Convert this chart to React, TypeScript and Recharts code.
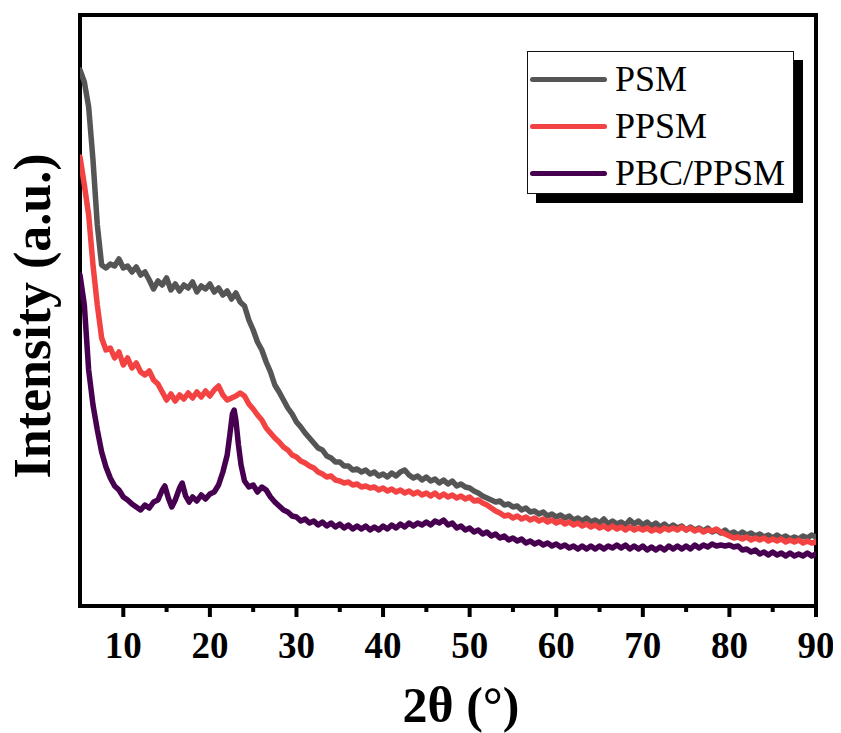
import React from 'react';
import { LineChart, Line, XAxis, YAxis, ReferenceArea, Customized } from 'recharts';

// 2θ grid (degrees) used by PSM and PPSM scans
const gridAngles: number[] = Array.from({ length: 171 }, (_, i) => 5 + i * 0.5);

// PSM intensity (a.u.), 5.0 → 90.0 step 0.5
const psmIntensity: number[] = [
  536, 524, 499, 446, 381, 341, 338, 342, 340, 347,
  338, 340, 334, 339, 331, 334, 326, 317, 325, 321,
  328, 316, 322, 315, 321, 318, 324, 314, 320, 317,
  322, 314, 318, 311, 315, 307, 313, 304, 300, 286,
  276, 264, 256, 244, 234, 221, 214, 206, 198, 192,
  184, 179, 173, 168, 163, 158, 156, 150, 148, 144,
  144, 140, 140, 136, 137, 134, 136, 132, 134, 130,
  132, 129, 133, 130, 134, 136, 131, 128, 130, 126,
  129, 125, 127, 123, 126, 122, 125, 120, 122, 119,
  118, 115, 113, 110, 108, 106, 104, 105, 101, 102,
  99, 100, 96, 98, 94, 95, 92, 94, 90, 92,
  89, 91, 88, 90, 86, 88, 85, 88, 84, 86,
  83, 87, 82, 85, 82, 84, 81, 86, 82, 85,
  81, 84, 80, 83, 79, 82, 78, 81, 78, 80,
  76, 79, 76, 78, 75, 78, 74, 76, 73, 76,
  72, 74, 71, 74, 71, 73, 70, 72, 69, 71,
  68, 71, 68, 70, 67, 69, 67, 70, 68, 71,
  69,
];

// PPSM intensity (a.u.), 5.0 → 90.0 step 0.5
const ppsmIntensity: number[] = [
  449, 421, 391, 341, 301, 268, 256, 258, 248, 254,
  241, 248, 238, 243, 234, 231, 235, 226, 222, 214,
  206, 212, 205, 211, 207, 213, 208, 214, 209, 215,
  210, 216, 220, 211, 206, 208, 210, 213, 210, 202,
  197, 191, 186, 178, 173, 168, 164, 159, 156, 151,
  149, 145, 143, 140, 138, 134, 132, 129, 130, 126,
  125, 123, 124, 121, 122, 119, 120, 118, 119, 116,
  118, 115, 117, 114, 116, 113, 115, 112, 114, 111,
  113, 110, 113, 109, 112, 109, 111, 108, 110, 107,
  109, 105, 106, 103, 101, 98, 95, 93, 90, 91,
  88, 90, 87, 89, 86, 88, 85, 87, 84, 86,
  83, 85, 82, 84, 81, 83, 80, 82, 79, 81,
  78, 80, 77, 80, 77, 79, 76, 79, 76, 78,
  76, 78, 75, 77, 75, 78, 76, 78, 76, 79,
  76, 78, 75, 77, 74, 76, 75, 77, 74, 72,
  70, 68, 69, 67, 69, 66, 68, 66, 68, 65,
  67, 65, 67, 64, 66, 64, 66, 63, 65, 63,
  64,
];

// PBC/PPSM scan angles: finer points around the crystalline peaks, then 0.5 steps
const pbcAngles: number[] = [
  5, 5.5, 6, 6.5, 7, 7.5, 8, 8.5, 9, 9.5,
  10, 10.5, 11, 11.5, 12, 12.5, 13, 13.5, 14, 14.5,
  14.8, 15.2, 15.6,
  16, 16.5, 16.8, 17.2, 17.6,
  18, 18.5, 19, 19.5, 20, 20.5, 21, 21.5, 22,
  22.3, 22.6, 22.8, 23, 23.3, 23.6, 24,
  ...Array.from({ length: 132 }, (_, i) => 24.5 + i * 0.5),
];

// PBC/PPSM intensity (a.u.)
const pbcIntensity: number[] = [
  331, 301, 236, 201, 176, 154, 139, 128, 120, 116,
  109, 106, 102, 99, 96, 101, 98, 104, 106, 116,
  120, 108, 99,
  106, 118, 123, 110, 104,
  109, 105, 111, 107, 112, 114, 121, 134, 151,
  171, 192, 196, 186, 161, 141, 125,
  119, 121, 114, 119, 116, 109, 104, 100, 96, 94, 90,
  89, 85, 87, 83, 85, 81, 84, 80, 83, 79,
  82, 78, 81, 77, 80, 77, 80, 76, 79, 76,
  80, 77, 81, 78, 82, 79, 83, 80, 83, 81,
  84, 81, 85, 83, 86, 81, 83, 78, 80, 76,
  78, 74, 76, 72, 74, 70, 72, 68, 70, 66,
  68, 65, 67, 63, 65, 62, 64, 61, 63, 60,
  62, 59, 61, 58, 60, 57, 60, 57, 60, 57,
  60, 57, 60, 58, 61, 58, 61, 57, 60, 57,
  60, 56, 59, 56, 59, 56, 60, 57, 60, 57,
  60, 57, 61, 58, 61, 59, 62, 60, 61, 60,
  61, 59, 60, 56, 57, 54, 56, 52, 54, 51,
  54, 51, 53, 50, 53, 50, 52, 50, 53, 50,
  52,
];

const seriesNames = ['PSM', 'PPSM', 'PBC/PPSM'];
const seriesColors = ['#555555', '#f24242', '#46004f'];

const xTicks: number[] = [10, 15, 20, 25, 30, 35, 40, 45, 50, 55, 60, 65, 70, 75, 80, 85, 90];
const majorTicks: number[] = [10, 20, 30, 40, 50, 60, 70, 80, 90];

const xDomain: [number, number] = [5, 90];
const yDomain: [number, number] = [0, 591];

const zip = (xs: number[], ys: number[]) => xs.map((x, i) => ({ twoTheta: x, intensity: ys[i] }));

const psmData = zip(gridAngles, psmIntensity);
const ppsmData = zip(gridAngles, ppsmIntensity);
const pbcData = zip(pbcAngles, pbcIntensity);
const seriesData = [psmData, ppsmData, pbcData];

const FONT = "'Liberation Serif', 'Times New Roman', Times, serif";

const XTick = (props: any) => {
  const { x, y, payload } = props;
  const v = payload.value;
  const major = majorTicks.includes(v);
  return (
    <g>
      <line x1={x} x2={x} y1={y} y2={y + (major ? 11 : 6)} stroke="#000" strokeWidth={4} />
      {major && (
        <text x={x} y={y + 52} textAnchor="middle" fontFamily={FONT} fontWeight="bold" fontSize={37} fill="#000">
          {v}
        </text>
      )}
    </g>
  );
};

const AxisTitles = () => (
  <g>
    <text x={461} y={722} textAnchor="middle" fontFamily={FONT} fontWeight="bold" fontSize={50} fill="#000">
      2θ (°)
    </text>
    <text
      x={50}
      y={316}
      textAnchor="middle"
      transform="rotate(-90, 50, 316)"
      fontFamily={FONT}
      fontWeight="bold"
      fontSize={52}
      fill="#000"
    >
      Intensity (a.u.)
    </text>
  </g>
);

const LegendBox = () => (
  <div
    style={{
      position: 'absolute',
      left: 527,
      top: 51,
      width: 267,
      height: 143,
      boxSizing: 'border-box',
      border: '1.5px solid #111',
      background: '#fff',
      boxShadow: '9px 9px 0 #000',
    }}
  >
    {seriesNames.map((name, i) => (
      <div
        key={name}
        style={{
          position: 'absolute',
          left: 2,
          top: 27 + i * 47 - 20,
          height: 40,
          display: 'flex',
          alignItems: 'center',
          whiteSpace: 'nowrap',
        }}
      >
        <div style={{ width: 77, height: 5, borderRadius: 3, background: seriesColors[i] }} />
        <span style={{ marginLeft: 8, fontFamily: FONT, fontSize: 36, lineHeight: '40px', color: '#000' }}>{name}</span>
      </div>
    ))}
  </div>
);

export default function App() {
  return (
    <div style={{ position: 'relative', width: 841, height: 733, margin: '-8px 0 0 -8px' }}>
      <LineChart
        width={841}
        height={733}
        margin={{ top: 15, right: 25, left: 80, bottom: 67 }}
        style={{ overflow: 'visible' }}
      >
        <XAxis
          dataKey="twoTheta"
          type="number"
          domain={xDomain}
          allowDataOverflow
          ticks={xTicks}
          interval={0}
          tick={<XTick />}
          tickLine={false}
          axisLine={false}
          tickSize={0}
          tickMargin={0}
          height={60}
        />
        <YAxis type="number" domain={yDomain} allowDataOverflow hide />
        {seriesData.map((d, i) => (
          <Line
            key={seriesNames[i]}
            data={d}
            dataKey="intensity"
            name={seriesNames[i]}
            type="linear"
            dot={false}
            activeDot={false}
            stroke={seriesColors[i]}
            strokeWidth={5.5}
            strokeLinejoin="round"
            strokeLinecap="round"
            isAnimationActive={false}
          />
        ))}
        <ReferenceArea
          x1={5}
          x2={90}
          y1={0}
          y2={591}
          fill="none"
          fillOpacity={0}
          stroke="#000"
          strokeWidth={4}
          ifOverflow="visible"
        />
        <Customized component={AxisTitles} />
      </LineChart>
      <LegendBox />
    </div>
  );
}
